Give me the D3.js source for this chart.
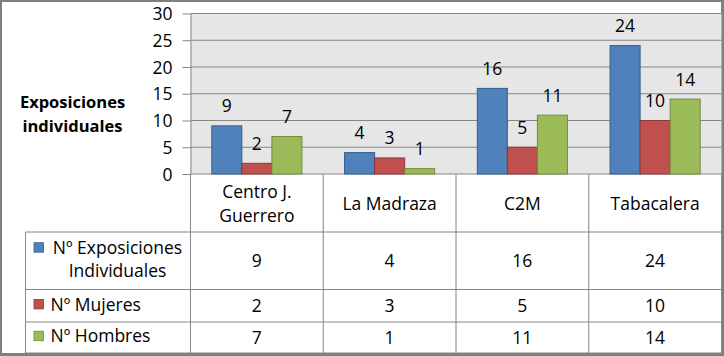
<!DOCTYPE html>
<html><head><meta charset="utf-8">
<script src="https://cdn.jsdelivr.net/npm/d3@7"></script>
<style>
body{margin:0;background:#fff}
svg{display:block}
text{font-family:"Open Sans",sans-serif;fill:#000}
</style>
</head><body>
<svg id="c" width="724" height="356"></svg>
<script>
// ---- data ----
const categories = ["Centro J. Guerrero", "La Madraza", "C2M", "Tabacalera"];
const categoryLines = [["Centro J.", "Guerrero"], ["La Madraza"], ["C2M"], ["Tabacalera"]];
const seriesNames = ["Nº Exposiciones Individuales", "Nº Mujeres", "Nº Hombres"];
const seriesLines = [["Nº Exposiciones", "Individuales"], ["Nº Mujeres"], ["Nº Hombres"]];
const exposiciones = [9, 4, 16, 24];
const mujeres = [2, 3, 5, 10];
const hombres = [7, 1, 11, 14];
const yTicks = [0, 5, 10, 15, 20, 25, 30];
const axisTitle = ["Exposiciones", "individuales"];

// ---- styles ----
const seriesValues = [exposiciones, mujeres, hombres];
const fills = ["#4F81BD", "#C0504D", "#9BBB59"];
const strokes = ["#385D8A", "#8C3836", "#71893F"];
const gridColor = "#868686";
const fontSize = 17.5;

const svg = d3.select("#c");
const W = 724, H = 356;
const plotL = 190.5, plotR = 721.5, plotT = 13.5, plotB = 174;
const rowEdges = [174, 232, 289.5, 322, 353];
const tableL = 25.5;

// frame
svg.append("rect").attr("width", W).attr("height", H).attr("fill", "#7f7f7f");
svg.append("rect").attr("x", 2).attr("y", 2).attr("width", 719).attr("height", 351).attr("fill", "#fff");

// scales
const x = d3.scaleBand().domain(categories).range([plotL, plotR]).paddingInner(0).paddingOuter(0);
const xs = d3.scaleBand().domain(seriesNames).range([0, x.bandwidth()]).paddingInner(0).paddingOuter(0.71);
const y = d3.scaleLinear().domain([0, 30]).range([plotB, plotT]);

// plot background
svg.append("rect").attr("x", plotL).attr("y", y(30)).attr("width", plotR - plotL).attr("height", y(0) - y(30)).attr("fill", "#e6e6e6");

// gridlines
svg.append("g").selectAll("line").data(yTicks).join("line")
  .attr("x1", plotL).attr("x2", plotR)
  .attr("y1", d => y(d)).attr("y2", d => y(d))
  .attr("stroke", gridColor).attr("stroke-width", 1);

// bars
const rows = [];
categories.forEach((c, ci) => seriesNames.forEach((s, si) => rows.push({c, s, si, v: seriesValues[si][ci]})));
svg.append("g").selectAll("rect").data(rows).join("rect")
  .attr("x", d => x(d.c) + xs(d.s))
  .attr("y", d => y(d.v))
  .attr("width", xs.bandwidth())
  .attr("height", d => y(0) - y(d.v))
  .attr("fill", d => fills[d.si])
  .attr("stroke", d => strokes[d.si]).attr("stroke-width", 1);

// data labels
svg.append("g").selectAll("text").data(rows).join("text")
  .attr("x", d => x(d.c) + xs(d.s) + xs.bandwidth() / 2)
  .attr("y", d => y(d.v) - 13.5)
  .attr("text-anchor", "middle").attr("font-size", fontSize)
  .text(d => d.v);

// y axis
const yAxis = d3.axisLeft(y).tickValues(yTicks).tickSize(8).tickPadding(10).tickSizeOuter(0);
const ag = svg.append("g").attr("transform", `translate(${plotL},0)`).call(yAxis);
ag.select(".domain").attr("stroke", gridColor);
ag.selectAll(".tick line").attr("stroke", gridColor);
ag.selectAll(".tick text").attr("font-size", fontSize).attr("font-family", '"Open Sans",sans-serif').attr("fill", "#000").attr("dy", "0.35em");

// axis title
svg.append("g").selectAll("text").data(axisTitle).join("text")
  .attr("x", 72.5).attr("y", (d, i) => 108 + i * 23.5)
  .attr("text-anchor", "middle").attr("font-size", 16.5).attr("font-weight", "bold")
  .text(d => d);

// data table lines
const tg = svg.append("g").attr("stroke", gridColor).attr("stroke-width", 1);
const bounds = categories.map(c => x(c)).concat([plotR]);
tg.selectAll("line.v").data(bounds).join("line").attr("class", "v")
  .attr("x1", d => d).attr("x2", d => d).attr("y1", rowEdges[0]).attr("y2", rowEdges[4]);
tg.append("line").attr("x1", tableL).attr("x2", tableL).attr("y1", rowEdges[1]).attr("y2", rowEdges[4]);
tg.selectAll("line.h").data(rowEdges.slice(1)).join("line").attr("class", "h")
  .attr("x1", tableL).attr("x2", plotR).attr("y1", d => d).attr("y2", d => d);

// category headers
const hc = (rowEdges[0] + rowEdges[1]) / 2;
categories.forEach((c, ci) => {
  const lines = categoryLines[ci];
  svg.append("g").selectAll("text").data(lines).join("text")
    .attr("x", x(c) + x.bandwidth() / 2)
    .attr("y", (d, i) => hc + 0.5 + (i - (lines.length - 1) / 2) * 23.5)
    .attr("dy", "0.36em").attr("text-anchor", "middle").attr("font-size", fontSize)
    .text(d => d);
});

// table value rows + legend
seriesNames.forEach((s, si) => {
  const top = rowEdges[si + 1], bot = rowEdges[si + 2];
  const cy = (top + bot) / 2;
  svg.append("g").selectAll("text").data(categories).join("text")
    .attr("x", c => x(c) + x.bandwidth() / 2).attr("y", cy).attr("dy", "0.36em")
    .attr("text-anchor", "middle").attr("font-size", fontSize)
    .text((c, ci) => seriesValues[si][ci]);
  const lines = seriesLines[si];
  const lineY = i => cy - 1.5 + (i - (lines.length - 1) / 2) * 23.5;
  svg.append("rect").attr("x", 34).attr("y", lineY(0) - 4.8).attr("width", 9.5).attr("height", 9.5)
    .attr("fill", fills[si]).attr("stroke", strokes[si]).attr("stroke-width", 0.8);
  if (lines.length === 1) {
    svg.append("text").attr("x", 50.5).attr("y", lineY(0)).attr("dy", "0.36em").attr("font-size", fontSize).text(lines[0]);
  } else {
    svg.append("g").selectAll("text").data(lines).join("text")
      .attr("x", 117.5).attr("y", (d, i) => lineY(i)).attr("dy", "0.36em")
      .attr("text-anchor", "middle").attr("font-size", fontSize).text(d => d);
  }
});
</script>
</body></html>
